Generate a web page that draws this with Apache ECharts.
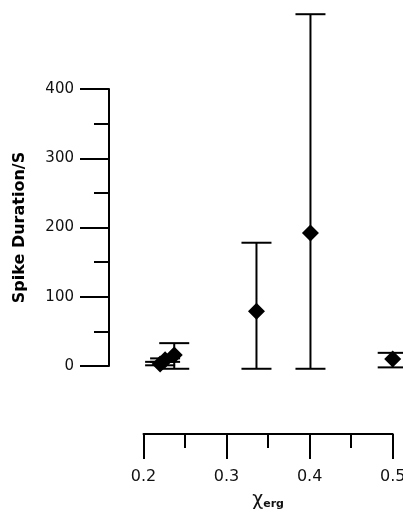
<!DOCTYPE html>
<html>
<head>
<meta charset="utf-8">
<script src="https://cdn.jsdelivr.net/npm/echarts@6/dist/echarts.min.js"></script>
<style>
html,body{margin:0;padding:0;background:#fff;}
#chart{width:403px;height:513px;}
</style>
</head>
<body>
<div id="chart"></div>
<script>
const xVals = [0.220, 0.226, 0.237, 0.336, 0.401, 0.5];
const yVals = [3, 9, 16, 79, 192, 10];
const errLow = [1, 6, -4, -4, -4, -2];
const errHigh = [6, 11, 33, 178, 508, 19];
const xTicks = [0.2, 0.3, 0.4, 0.5];
const yTicks = [0, 100, 200, 300, 400];

const chart = echarts.init(document.getElementById('chart'), null, {renderer: 'canvas'});
const pts = xVals.map((x, i) => [x, yVals[i]]);
const errs = xVals.map((x, i) => [x, errLow[i], errHigh[i]]);

chart.setOption({
  animation: false,
  backgroundColor: '#fff',
  grid: {left: 143.5, right: 10.3, top: 89, bottom: 147, containLabel: false, outerBoundsMode: 'none'},
  xAxis: {
    type: 'value', min: 0.2, max: 0.5, interval: 0.1,
    offset: 68,
    axisLine: {show: true, onZero: false, lineStyle: {color: '#000', width: 2}},
    axisTick: {show: true, length: 25, lineStyle: {color: '#000', width: 2}},
    minorTick: {show: true, splitNumber: 2, length: 14, lineStyle: {color: '#000', width: 2}},
    splitLine: {show: false},
    axisLabel: {margin: 35, fontFamily: 'DejaVu Sans', fontSize: 16, color: '#111',
      formatter: v => (xTicks.some(t => Math.abs(t - v) < 1e-9) ? v.toFixed(1) : '')},
    name: '{a|χ}{b|erg}',
    nameLocation: 'middle',
    nameGap: 57,
    nameTextStyle: {
      rich: {
        a: {fontFamily: 'DejaVu Sans', fontSize: 19, color: '#111'},
        b: {fontFamily: 'DejaVu Sans', fontSize: 11, fontWeight: 'bold', color: '#111', padding: [7, 0, 0, 0]}
      }
    }
  },
  yAxis: {
    type: 'value', min: 0, max: 400, interval: 100,
    offset: 34.5,
    axisLine: {show: true, onZero: false, lineStyle: {color: '#000', width: 2}},
    axisTick: {show: true, length: 29, lineStyle: {color: '#000', width: 2}},
    minorTick: {show: true, splitNumber: 2, length: 15, lineStyle: {color: '#000', width: 2}},
    splitLine: {show: false},
    axisLabel: {margin: 35, fontFamily: 'DejaVu Sans', fontSize: 15, color: '#111',
      formatter: v => (yTicks.indexOf(v) >= 0 ? String(v) : '')},
    name: 'Spike Duration/S',
    nameLocation: 'middle',
    nameGap: 81,
    nameTextStyle: {fontFamily: 'DejaVu Sans', fontSize: 16, fontWeight: 'bold', color: '#000'}
  },
  series: [
    {
      type: 'custom',
      clip: false,
      data: errs,
      renderItem: function (params, api) {
        const x = api.value(0);
        const lo = api.coord([x, api.value(1)]);
        const hi = api.coord([x, api.value(2)]);
        const hw = 15;
        const st = {stroke: '#000', lineWidth: 2};
        return {
          type: 'group',
          children: [
            {type: 'line', shape: {x1: lo[0], y1: lo[1], x2: hi[0], y2: hi[1]}, style: st},
            {type: 'line', shape: {x1: lo[0] - hw, y1: lo[1], x2: lo[0] + hw, y2: lo[1]}, style: st},
            {type: 'line', shape: {x1: hi[0] - hw, y1: hi[1], x2: hi[0] + hw, y2: hi[1]}, style: st}
          ]
        };
      },
      z: 1
    },
    {
      type: 'scatter',
      clip: false,
      symbol: 'diamond',
      symbolSize: [17, 17],
      itemStyle: {color: '#000', opacity: 1},
      data: pts,
      z: 2
    }
  ]
});
</script>
</body>
</html>
